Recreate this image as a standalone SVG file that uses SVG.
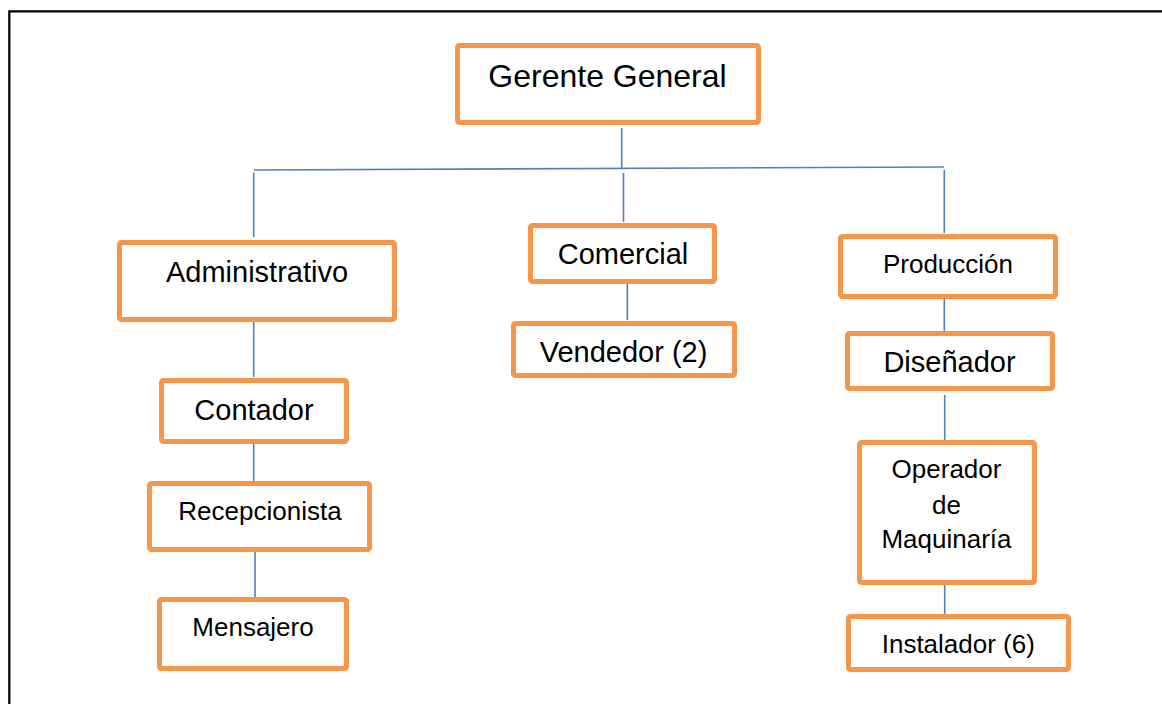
<svg xmlns="http://www.w3.org/2000/svg" width="1162" height="704" viewBox="0 0 1162 704">
<style>
.box{fill:#fff;stroke:#F79646;stroke-width:5}
.t{font-family:"Liberation Sans",Arial,sans-serif;fill:#000;text-anchor:middle}
.c{stroke:#4F81BD;stroke-width:1.6;fill:none}
</style>
<rect width="1162" height="704" fill="#fff"/>
<path d="M9.3 704 V11.3 H1162" fill="none" stroke="#000" stroke-width="2.2"/>
<g id="connectors">
<line class="c" x1="621.7" y1="128" x2="621.7" y2="168"/>
<line class="c" x1="254" y1="170" x2="944" y2="167"/>
<line class="c" x1="253.7" y1="172.5" x2="253.7" y2="237"/>
<line class="c" x1="623.5" y1="173" x2="623.5" y2="222"/>
<line class="c" x1="944.3" y1="170" x2="944.3" y2="233"/>
<line class="c" x1="627.3" y1="284" x2="627.3" y2="320"/>
<line class="c" x1="253.7" y1="322" x2="253.7" y2="377"/>
<line class="c" x1="253.7" y1="444" x2="253.7" y2="481"/>
<line class="c" x1="255" y1="552" x2="255" y2="597"/>
<line class="c" x1="944.3" y1="299" x2="944.3" y2="331"/>
<line class="c" x1="944.7" y1="395" x2="944.7" y2="440"/>
<line class="c" x1="944.7" y1="585" x2="944.7" y2="614"/>
</g>
<g id="gerente"><rect class="box" x="457.5" y="45.5" width="301" height="77" rx="2"/><text class="t" x="607.5" y="87" font-size="32">Gerente General</text></g>
<g id="administrativo"><rect class="box" x="119.5" y="242.5" width="275" height="77" rx="2"/><text class="t" x="257" y="282" font-size="29">Administrativo</text></g>
<g id="comercial"><rect class="box" x="530.5" y="225.5" width="184" height="56" rx="2"/><text class="t" x="623" y="264" font-size="29">Comercial</text></g>
<g id="vendedor"><rect class="box" x="513.5" y="323.5" width="221" height="52" rx="2"/><text class="t" x="623.5" y="362" font-size="29">Vendedor (2)</text></g>
<g id="contador"><rect class="box" x="161.5" y="380.5" width="185" height="61" rx="2"/><text class="t" x="254" y="420" font-size="29">Contador</text></g>
<g id="recepcionista"><rect class="box" x="149.5" y="483.5" width="220" height="66" rx="2"/><text class="t" x="260" y="520" font-size="26">Recepcionista</text></g>
<g id="mensajero"><rect class="box" x="159.5" y="599.5" width="187" height="69" rx="2"/><text class="t" x="253" y="636" font-size="26">Mensajero</text></g>
<g id="produccion"><rect class="box" x="840.5" y="236.5" width="215" height="60" rx="2"/><text class="t" x="948" y="273" font-size="26">Producción</text></g>
<g id="disenador"><rect class="box" x="847.5" y="333.5" width="205" height="55" rx="2"/><text class="t" x="949.5" y="372" font-size="29">Diseñador</text></g>
<g id="operador"><rect class="box" x="859.5" y="442.5" width="175" height="140" rx="2"/><text class="t" x="946.5" y="478" font-size="26">Operador</text><text class="t" x="946.5" y="514" font-size="26">de</text><text class="t" x="946.5" y="548" font-size="26">Maquinaría</text></g>
<g id="instalador"><rect class="box" x="848.5" y="616.5" width="220" height="53" rx="2"/><text class="t" x="958.3" y="653" font-size="26">Instalador (6)</text></g>
</svg>
